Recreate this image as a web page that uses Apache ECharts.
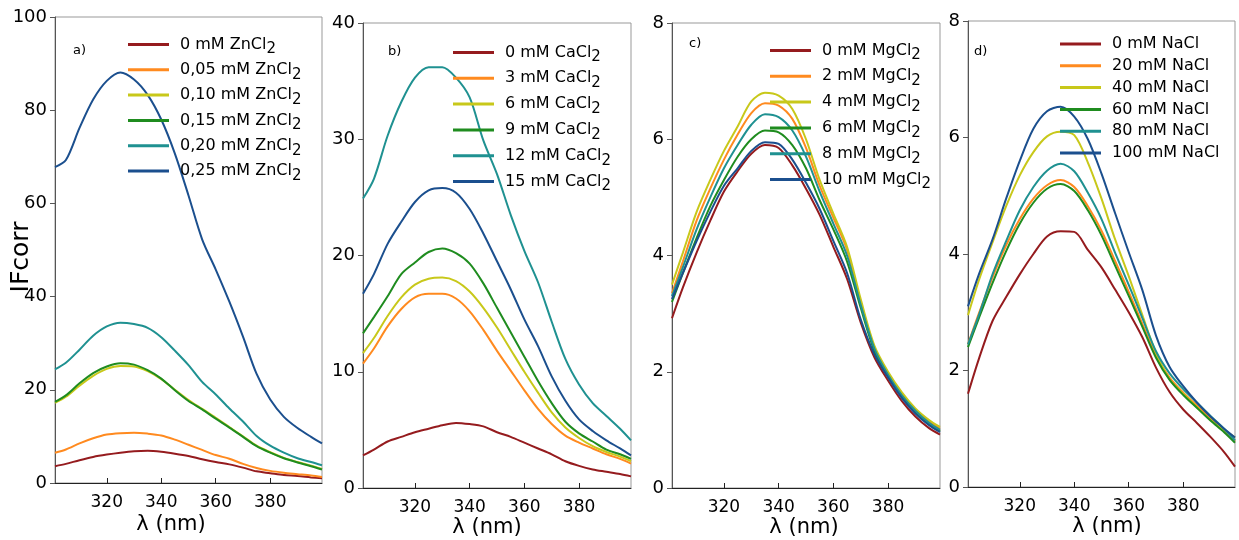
<!DOCTYPE html>
<html>
<head>
<meta charset="utf-8">
<script src="https://cdn.jsdelivr.net/npm/echarts@6/dist/echarts.min.js"></script>
<style>html,body{margin:0;padding:0;background:#fff}#c{width:1239px;height:540px}</style>
</head>
<body>
<div id="c"></div>
<script>
// wavelength grid (nm)
const wl = [301,305,310,315,320,325,330,335,340,345,350,355,360,365,370,375,380,385,390,395,399];
const xTicks = [320,340,360,380];

// panel a) ZnCl2
const zn0   = [3.6,4.1,4.9,5.6,6.1,6.5,6.8,6.9,6.7,6.3,5.8,5.1,4.5,4.0,3.3,2.5,2.1,1.7,1.5,1.2,1.0];
const zn005 = [6.5,7.2,8.5,9.6,10.4,10.7,10.8,10.6,10.2,9.3,8.2,7.1,6.0,5.2,4.1,3.2,2.6,2.2,1.9,1.6,1.3];
const zn010 = [17.2,18.5,20.9,23.0,24.5,25.1,25.0,24.0,22.3,20.0,17.8,15.9,14.0,12.0,10.0,8.0,6.6,5.4,4.5,3.7,3.0];
const zn015 = [17.4,18.8,21.4,23.6,25.0,25.7,25.4,24.2,22.4,19.9,17.6,15.8,13.8,11.9,9.9,7.9,6.5,5.3,4.4,3.6,2.9];
const zn020 = [24.4,25.8,28.6,31.6,33.6,34.4,34.1,33.3,31.3,28.4,25.3,21.7,19.0,16.0,13.2,10.1,8.0,6.5,5.3,4.5,3.8];
const zn025 = [67.8,69.3,76.2,82.3,86.3,88.1,86.6,83.3,78.0,70.7,61.7,52.3,45.8,38.9,31.4,23.4,17.9,14.2,11.8,9.9,8.5];

// panel b) CaCl2
const ca0  = [2.8,3.3,4.0,4.4,4.8,5.1,5.4,5.6,5.5,5.3,4.8,4.4,3.9,3.4,2.9,2.3,1.9,1.6,1.4,1.2,1.0];
const ca3  = [10.7,12.0,13.9,15.4,16.4,16.7,16.7,16.3,15.2,13.6,11.8,10.1,8.4,6.8,5.5,4.5,3.9,3.4,2.9,2.5,2.1];
const ca6  = [11.6,12.9,14.8,16.4,17.5,18.0,18.1,17.8,16.9,15.5,13.8,11.9,10.0,8.2,6.5,5.2,4.3,3.6,3.1,2.7,2.3];
const ca9  = [13.3,14.7,16.5,18.4,19.4,20.3,20.6,20.2,19.3,17.6,15.5,13.4,11.3,9.2,7.3,5.7,4.7,4.0,3.3,2.9,2.5];
const ca12 = [24.9,26.6,30.3,33.2,35.3,36.2,36.2,35.3,33.6,29.9,27.0,23.5,20.4,17.7,14.3,11.1,8.9,7.3,6.2,5.1,4.1];
const ca15 = [16.7,18.4,21.0,22.9,24.6,25.6,25.8,25.4,24.0,21.9,19.5,17.1,14.5,12.2,9.6,7.5,5.9,4.9,4.1,3.4,2.8];

// panel c) MgCl2
const mg0  = [2.92,3.45,4.05,4.6,5.1,5.45,5.75,5.9,5.85,5.55,5.15,4.7,4.15,3.6,2.85,2.25,1.85,1.5,1.23,1.03,0.92];
const mg2  = [3.35,3.9,4.6,5.15,5.65,6.08,6.45,6.62,6.58,6.35,5.85,5.2,4.65,4.1,3.2,2.42,1.97,1.62,1.35,1.15,1.02];
const mg4  = [3.5,4.05,4.75,5.3,5.8,6.22,6.65,6.8,6.75,6.52,6.0,5.3,4.72,4.15,3.25,2.45,2.0,1.65,1.37,1.17,1.05];
const mg6  = [3.2,3.7,4.3,4.85,5.3,5.7,6.0,6.15,6.12,5.9,5.5,4.95,4.45,3.9,3.1,2.36,1.92,1.58,1.3,1.1,0.98];
const mg8  = [3.3,3.8,4.45,5.0,5.5,5.9,6.25,6.43,6.38,6.15,5.7,5.1,4.55,4.0,3.15,2.4,1.95,1.6,1.33,1.12,1.0];
const mg10 = [3.25,3.7,4.25,4.75,5.2,5.5,5.8,5.95,5.92,5.65,5.25,4.8,4.25,3.7,2.9,2.3,1.9,1.55,1.28,1.08,0.96];

// panel d) NaCl
const na0   = [1.6,2.2,2.85,3.26,3.65,4.0,4.3,4.39,4.38,4.07,3.77,3.39,3.0,2.57,2.05,1.63,1.33,1.1,0.86,0.6,0.35];
const na20  = [2.45,2.98,3.6,4.15,4.6,4.95,5.18,5.27,5.15,4.82,4.4,3.88,3.35,2.8,2.26,1.88,1.62,1.4,1.18,0.97,0.78];
const na40  = [2.95,3.55,4.2,4.82,5.35,5.75,6.02,6.1,6.04,5.57,4.95,4.25,3.62,2.95,2.3,1.85,1.6,1.37,1.15,0.98,0.85];
const na60  = [2.4,2.9,3.5,4.05,4.52,4.88,5.12,5.2,5.08,4.75,4.32,3.8,3.28,2.75,2.22,1.84,1.58,1.36,1.14,0.94,0.76];
const na80  = [2.45,2.95,3.65,4.22,4.75,5.15,5.43,5.55,5.42,5.05,4.6,4.02,3.47,2.9,2.33,1.95,1.68,1.45,1.22,1.0,0.8];
const na100 = [3.1,3.65,4.25,4.95,5.6,6.15,6.45,6.53,6.36,5.97,5.38,4.7,4.03,3.38,2.6,2.06,1.73,1.45,1.21,1.0,0.85];

const colors = ['#951b1e','#ff8a1f','#c8c81a','#1f8c1f','#1f9191','#1b4f8e'];

const panels = [
  {label:'a)', yMax:100, yInt:20,
   names:['0 mM ZnCl2','0,05 mM ZnCl2','0,10 mM ZnCl2','0,15 mM ZnCl2','0,20 mM ZnCl2','0,25 mM ZnCl2'],
   data:[zn0,zn005,zn010,zn015,zn020,zn025]},
  {label:'b)', yMax:40, yInt:10,
   names:['0 mM CaCl2','3 mM CaCl2','6 mM CaCl2','9 mM CaCl2','12 mM CaCl2','15 mM CaCl2'],
   data:[ca0,ca3,ca6,ca9,ca12,ca15]},
  {label:'c)', yMax:8, yInt:2,
   names:['0 mM MgCl2','2 mM MgCl2','4 mM MgCl2','6 mM MgCl2','8 mM MgCl2','10 mM MgCl2'],
   data:[mg0,mg2,mg4,mg6,mg8,mg10]},
  {label:'d)', yMax:8, yInt:2,
   names:['0 mM NaCl','20 mM NaCl','40 mM NaCl','60 mM NaCl','80 mM NaCl','100 mM NaCl'],
   data:[na0,na20,na40,na60,na80,na100]}
];

// layout
const grids = [
  {left:55, top:17, width:267, height:466},
  {left:363, top:23, width:268, height:465},
  {left:672, top:23, width:268, height:465},
  {left:968, top:21, width:267, height:466}
];
const legendPos = [
  {left:128, top:32, gap:0.3},
  {left:453, top:40, gap:0.8},
  {left:770, top:38, gap:0.8},
  {left:1060, top:36, gap:5.8}
];
const labelPos = [[80,52],[395,53],[696,45],[981,53]];
const xNamePos = [[171,525],[487,528],[804,528],[1107,527]];

const FONT = 'DejaVu Sans';

const option = {
  animation:false,
  backgroundColor:'#fff',
  textStyle:{fontFamily:FONT},
  grid: grids.map(g => Object.assign({show:true, borderColor:'#999', borderWidth:1, containLabel:false}, g)),
  xAxis: grids.map((g,i) => ({
    type:'value', gridIndex:i, min:301, max:399,
    axisLine:{show:true, lineStyle:{color:'#222', width:1}},
    axisTick:{show:true, inside:true, length:5, customValues:xTicks, lineStyle:{color:'#222'}},
    axisLabel:{show:true, customValues:xTicks, fontFamily:FONT, fontSize:17, color:'#000', margin:11},
    splitLine:{show:false}
  })),
  yAxis: panels.map((p,i) => ({
    type:'value', gridIndex:i, min:0, max:p.yMax, interval:p.yInt,
    axisLine:{show:true, lineStyle:{color:'#555', width:1}},
    axisTick:{show:true, inside:false, length:5, lineStyle:{color:'#555'}},
    axisLabel:{fontFamily:FONT, fontSize:18, color:'#000', margin:8},
    splitLine:{show:false}
  })),
  legend: panels.map((p,i) => ({
    data:p.names.map(n => ({name:n, icon:'rect'})),
    orient:'vertical', left:legendPos[i].left, top:legendPos[i].top,
    itemGap:legendPos[i].gap, itemWidth:41, itemHeight:3,
    padding:0, selectedMode:false,
    formatter: name => /Cl2$/.test(name) ? '{t|'+name.slice(0,-1)+'}{s|2}' : '{t|'+name+'}',
    textStyle:{
      fontFamily:FONT, fontSize:16, color:'#000',
      rich:{
        t:{fontFamily:FONT, fontSize:16, lineHeight:20, color:'#000', padding:[0,0,0,6]},
        s:{fontFamily:FONT, fontSize:15, lineHeight:6, padding:[10,0,0,0], color:'#000'}
      }
    }
  })),
  graphic: panels.map((p,i) => ({
    type:'text', left:labelPos[i][0]-7, top:labelPos[i][1]-8,
    style:{text:p.label, font:'13px "DejaVu Sans"', fill:'#000'}
  })).concat(xNamePos.map(q => ({
    type:'text', x:q[0], y:q[1],
    style:{text:'λ (nm)', font:'21px "DejaVu Sans"', fill:'#000', align:'center', verticalAlign:'middle'}
  }))).concat([{
    type:'text', x:21, y:257, rotation:Math.PI/2,
    style:{text:'IFcorr', font:'25px "DejaVu Sans"', fill:'#000', align:'center', verticalAlign:'middle'}
  }]),
  series: []
};

panels.forEach((p,i) => {
  p.data.forEach((arr,k) => {
    option.series.push({
      type:'line', name:p.names[k], xAxisIndex:i, yAxisIndex:i,
      symbol:'none', smooth:0.3, color:colors[k],
      lineStyle:{width:2, color:colors[k]},
      data: wl.map((x,j) => [x, arr[j]])
    });
  });
});

const chart = echarts.init(document.getElementById('c'), null, {renderer:'canvas'});
chart.setOption(option);
</script>
</body>
</html>
